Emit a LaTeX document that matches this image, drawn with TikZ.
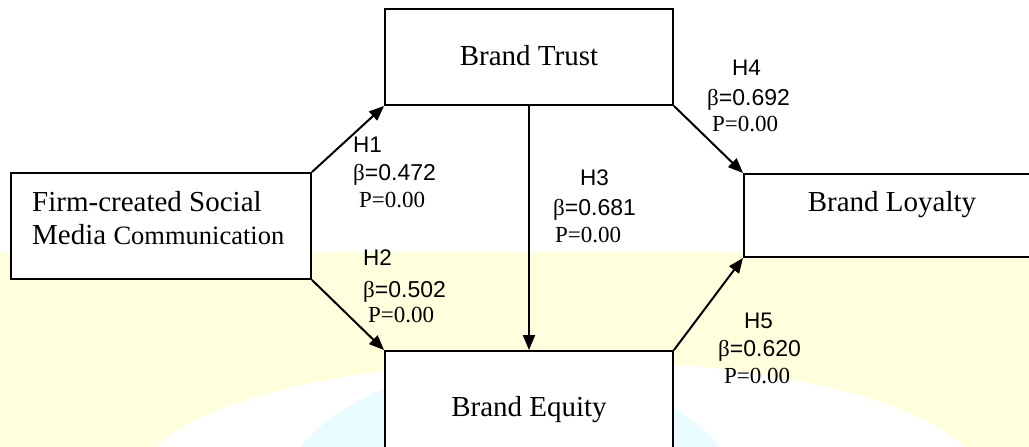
\documentclass[tikz,border=0pt]{standalone}
\usepackage{fontspec}
\setmainfont{Liberation Serif}
\newfontfamily\lsans{Liberation Sans}
\usetikzlibrary{arrows.meta}
\definecolor{bgyellow}{RGB}{255,255,222}
\definecolor{bgcyan}{RGB}{232,252,255}
\begin{document}
\begin{tikzpicture}[x=1pt,y=-1pt,
  box/.style={draw=black,line width=1.9pt,fill=white,inner sep=0pt},
  boxtext/.style={font=\fontsize{29}{34}\selectfont,inner sep=0pt,anchor=base},
  hyp/.style={font=\lsans\fontsize{22.5}{26}\selectfont,inner sep=0pt,anchor=base west},
  coef/.style={font=\fontsize{23}{27}\selectfont,inner sep=0pt,anchor=base west},
  link/.style={line width=2pt,-{Triangle[length=15pt,width=12pt]}}]
\clip (0,0) rectangle (1029,447);
\fill[white] (0,0) rectangle (1029,447);
\fill[bgyellow] (0,252) rectangle (1029,447);
\fill[white] (560,480) ellipse [x radius=420, y radius=120];
\fill[bgcyan] (510,525) ellipse [x radius=240, y radius=160];
% boxes
\node[box,minimum width=288pt,minimum height=96pt] (trust) at (529,57) {};
\node[box,minimum width=300pt,minimum height=106pt] (firm) at (161,226) {};
\node[box,minimum width=356pt,minimum height=83pt] (loyal) at (922,215.5) {};
\node[box,minimum width=288pt,minimum height=130pt] (equity) at (529,416) {};
% box texts
\node[boxtext] (trustlbl) at (529,65) {Brand Trust};
\node[boxtext] (loyallbl) at (892,211) {Brand Loyalty};
\node[boxtext] (equitylbl) at (529,416) {Brand Equity};
\node[boxtext,anchor=base west] (firmlbla) at (32,211) {Firm-created Social};
\node[boxtext,anchor=base west] (firmlblb) at (32,244) {Media {\fontsize{26.5}{30}\selectfont Communication}};
% connectors
\draw[link] (firm.north east) -- (trust.south west);
\draw[link] (firm.south east) -- (equity.north west);
\draw[link] (trust.south) -- (equity.north);
\draw[link] (trust.south east) -- (loyal.north west);
\draw[link] (equity.north east) -- (loyal.south west);
% labels
\node[hyp] (h1) at (353,152) {H1};
\node[coef] (b1) at (353,180) {β{\lsans=0.472}};
\node[coef] (p1) at (359,207) {P=0.00};
\node[hyp] (h2) at (363,265) {H2};
\node[coef] (b2) at (363,297) {β{\lsans=0.502}};
\node[coef] (p2) at (368,322) {P=0.00};
\node[hyp] (h3) at (580,185) {H3};
\node[coef] (b3) at (553,215) {β{\lsans=0.681}};
\node[coef] (p3) at (555,242) {P=0.00};
\node[hyp] (h4) at (732,75) {H4};
\node[coef] (b4) at (707,105) {β{\lsans=0.692}};
\node[coef] (p4) at (712,131) {P=0.00};
\node[hyp] (h5) at (744,328) {H5};
\node[coef] (b5) at (718,356) {β{\lsans=0.620}};
\node[coef] (p5) at (724,383) {P=0.00};
\end{tikzpicture}
\end{document}
